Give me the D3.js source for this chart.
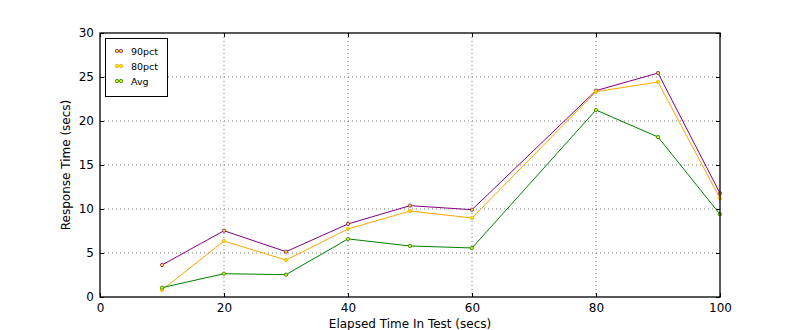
<!DOCTYPE html>
<html><head><meta charset="utf-8">
<script src="https://cdn.jsdelivr.net/npm/d3@7"></script>
<style>body{margin:0;background:#fff}svg{font-family:"DejaVu Sans",sans-serif}</style>
</head><body><svg id="c" width="800" height="330"></svg>
<script>
const xs = [10, 20, 30, 40, 50, 60, 80, 90, 100];
const pct90 = [3.64, 7.53, 5.15, 8.3, 10.38, 9.92, 23.45, 25.45, 11.78];
const pct80 = [0.8, 6.36, 4.2, 7.73, 9.77, 8.98, 23.33, 24.43, 11.2];
const avg = [1.06, 2.65, 2.54, 6.6, 5.8, 5.57, 21.25, 18.18, 9.4];
const seriesNames = ["90pct", "80pct", "Avg"];
const seriesColors = ["#800080", "#ffa500", "#008000"];
const xTicks = [0, 20, 40, 60, 80, 100];
const yTicks = [0, 5, 10, 15, 20, 25, 30];

const svg = d3.select("#c");
const L = 100, R = 720, T = 33, B = 297;
const x = d3.scaleLinear().domain([0, 100]).range([L, R]);
const y = d3.scaleLinear().domain([0, 30]).range([B, T]);

// grid
const g = svg.append("g");
g.selectAll(".gx").data(xTicks.slice(1, -1)).join("line")
  .attr("x1", d => x(d)).attr("x2", d => x(d)).attr("y1", T).attr("y2", B)
  .attr("stroke", "#777").attr("stroke-width", 1).attr("stroke-dasharray", "1,3");
g.selectAll(".gy").data(yTicks.slice(1, -1)).join("line")
  .attr("y1", d => y(d)).attr("y2", d => y(d)).attr("x1", L).attr("x2", R)
  .attr("stroke", "#777").attr("stroke-width", 1).attr("stroke-dasharray", "1,3");

// axes with inward ticks
const ax = (a) => a.tickSizeInner(-4).tickSizeOuter(0).tickPadding(6);
svg.append("g").attr("transform", `translate(0,${B})`)
  .call(ax(d3.axisBottom(x).tickValues(xTicks).tickFormat(d3.format("d"))));
svg.append("g").attr("transform", `translate(0,${T})`)
  .call(ax(d3.axisTop(x).tickValues(xTicks)).tickFormat(""));
svg.append("g").attr("transform", `translate(${L},0)`)
  .call(ax(d3.axisLeft(y).tickValues(yTicks).tickFormat(d3.format("d"))));
svg.append("g").attr("transform", `translate(${R},0)`)
  .call(ax(d3.axisRight(y).tickValues(yTicks)).tickFormat(""));
svg.selectAll(".domain").remove();
svg.selectAll(".tick text").attr("font-size", 12).attr("fill", "#000").attr("font-family", "DejaVu Sans");
svg.selectAll(".tick line").attr("stroke", "#000");

// lines
const data = [pct90, pct80, avg];
const line = d3.line().x((d, i) => x(xs[i])).y(d => y(d));
data.forEach((s, k) => {
  svg.append("path").datum(s).attr("d", line).attr("fill", "none")
    .attr("stroke", seriesColors[k]).attr("stroke-width", 1);
});
data.forEach((s, k) => {
  svg.append("g").selectAll("circle").data(s).join("circle")
    .attr("cx", (d, i) => x(xs[i])).attr("cy", d => y(d)).attr("r", 1.7)
    .attr("fill", "#e6e600").attr("stroke", seriesColors[k]).attr("stroke-width", 0.7);
});

// frame
svg.append("rect").attr("x", L).attr("y", T).attr("width", R - L).attr("height", B - T)
  .attr("fill", "none").attr("stroke", "#000").attr("stroke-width", 1.3);

// legend
const lg = svg.append("g");
lg.append("rect").attr("x", 105.5).attr("y", 38.5).attr("width", 62).attr("height", 58)
  .attr("fill", "#fff").attr("stroke", "#000").attr("stroke-width", 1);
seriesNames.forEach((n, k) => {
  const yy = 51 + k * 15;
  [117, 121].forEach(cx => lg.append("circle").attr("cx", cx).attr("cy", yy).attr("r", 1.7)
    .attr("fill", "#e6e600").attr("stroke", seriesColors[k]).attr("stroke-width", 0.7));
  lg.append("text").attr("x", 131).attr("y", yy + 3.5).attr("font-size", 9.5).text(n);
});

// axis titles
svg.append("text").attr("x", 410).attr("y", 328).attr("text-anchor", "middle")
  .attr("font-size", 12).text("Elapsed Time In Test (secs)");
svg.append("text").attr("transform", "translate(70,165) rotate(-90)").attr("text-anchor", "middle")
  .attr("font-size", 12).text("Response Time (secs)");
</script></body></html>
